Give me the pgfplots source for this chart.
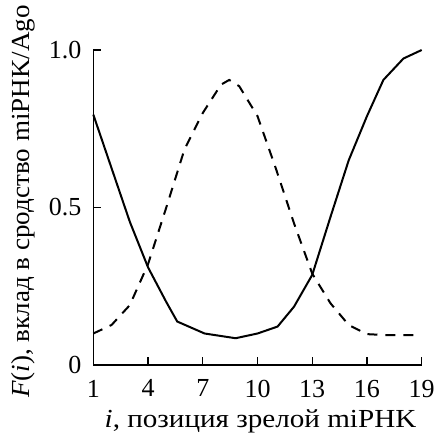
\documentclass[border=0pt]{standalone}
\usepackage{fontspec}
\setmainfont{Liberation Serif}
\newfontfamily\xlabelfont{Liberation Serif}[FakeStretch=1.12]
\newfontfamily\ylabelfont{Liberation Serif}[FakeStretch=1.04]
\usepackage{pgfplots}
\pgfplotsset{compat=1.18}

\begin{document}
\fontsize{26}{30}\selectfont
\begin{tikzpicture}
\useasboundingbox (-93.3pt,-69pt) rectangle (345.7pt,365pt);
\begin{axis}[
    at={(0,0)}, anchor=south west,
    scale only axis, width=328.4pt, height=315pt,
    xmin=1, xmax=19, ymin=0, ymax=1,
    axis lines=left, axis line style={-, line width=1.3pt},
    tick align=inside, major tick length=8pt,
    tick style={line width=1.3pt, black},
    xtick={1,4,7,10,13,16,19},
    ytick={0,0.5,1}, yticklabels={0,0.5,1.0},
    /pgf/number format/assume math mode=true,
    tick label style={font=\fontsize{26}{30}\selectfont},
    xticklabel style={yshift=-6pt},
    yticklabel style={xshift=-3pt},
    xlabel={\textit{i}, позиция зрелой miPHK},
    xlabel style={font=\xlabelfont\fontsize{26}{30}\selectfont, yshift=5pt, xshift=3pt},
    ylabel={\textit{F}(\textit{i}), вклад в сродство miPHK/Ago},
    ylabel style={font=\ylabelfont\fontsize{26}{30}\selectfont, xshift=6pt, yshift=-4pt},
    clip=false,
  ]
  \addplot[black, line width=2pt] coordinates {
    (1,0.795) (2,0.625) (3,0.455) (4,0.31) (5,0.2) (5.6,0.138) (7.1,0.10)
    (8.8,0.085) (10,0.10) (11.1,0.122) (12,0.185) (13,0.286) (14,0.47)
    (15,0.65) (16,0.79) (16.9,0.905) (18,0.973) (19,1.0)};
  \addplot[black, line width=2pt, dash pattern=on 10pt off 8pt] coordinates {
    (1,0.10) (2,0.127) (3,0.19) (4,0.32) (5,0.50) (6,0.685) (7,0.80)
    (8,0.89) (8.45,0.905) (9,0.885) (10,0.79) (11,0.625) (12,0.45)
    (13,0.29) (14,0.196) (15,0.127) (16,0.098) (17,0.095) (18,0.095) (18.8,0.095)};
\end{axis}
\end{tikzpicture}
\end{document}
